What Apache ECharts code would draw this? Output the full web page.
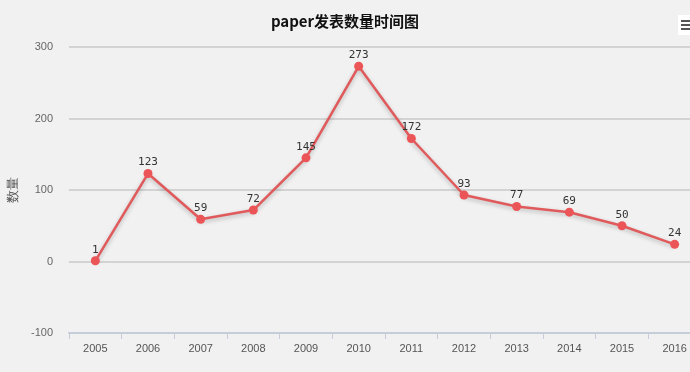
<!DOCTYPE html>
<html><head><meta charset="utf-8">
<script src="https://cdn.jsdelivr.net/npm/echarts@6/dist/echarts.min.js"></script>
<style>html,body{margin:0;padding:0;background:#f1f1f1;}#c{width:690px;height:372px;}</style>
</head><body><div id="c"></div>
<script>
var categories = ['2005','2006','2007','2008','2009','2010','2011','2012','2013','2014','2015','2016'];
var counts = [1,123,59,72,145,273,172,93,77,69,50,24];
var yTicks = {min:-100, max:300, interval:100};

var chart = echarts.init(document.getElementById('c'));
chart.setOption({
  backgroundColor:'#f1f1f1',
  title:{text:'paper发表数量时间图', left:'center', top:9,
    textStyle:{fontSize:15, fontWeight:'bold', color:'#111', fontFamily:'Noto Sans CJK SC'}},
  grid:{left:69, right:-11, top:47, bottom:39, containLabel:false, outerBoundsMode:'none'},
  graphic:[
    {type:'rect', shape:{x:678, y:15, width:14, height:20}, style:{fill:'#ffffff'}},
    {type:'rect', shape:{x:681, y:20, width:9, height:2}, style:{fill:'#555'}},
    {type:'rect', shape:{x:681, y:24, width:9, height:2}, style:{fill:'#555'}},
    {type:'rect', shape:{x:681, y:28, width:9, height:2}, style:{fill:'#555'}}
  ],
  xAxis:{type:'category', data:categories, boundaryGap:true,
    axisLine:{onZero:false, lineStyle:{color:'#c5cdd8', width:2}},
    axisTick:{show:true, length:6, lineStyle:{color:'#c5cdd8'}},
    axisLabel:{color:'#555', fontSize:11, margin:10},
    splitLine:{show:false}},
  yAxis:{type:'value', min:yTicks.min, max:yTicks.max, interval:yTicks.interval,
    name:'数量', nameLocation:'middle', nameGap:45, nameRotate:90,
    nameTextStyle:{color:'#555', fontSize:13},
    axisLine:{show:false}, axisTick:{show:false},
    axisLabel:{color:'#666', fontSize:11, margin:16},
    splitLine:{lineStyle:{color:'#c8c8c8', width:1.5}}},
  series:[{type:'line', data:counts, symbol:'circle', symbolSize:9,
    lineStyle:{color:'#e05a5c', width:2.5, shadowColor:'rgba(0,0,0,0.25)', shadowBlur:4, shadowOffsetY:2},
    itemStyle:{color:'#ec5558'},
    label:{show:true, position:'top', distance:1, color:'#333', fontSize:11, fontFamily:'DejaVu Sans Mono'}}]
});
</script></body></html>
